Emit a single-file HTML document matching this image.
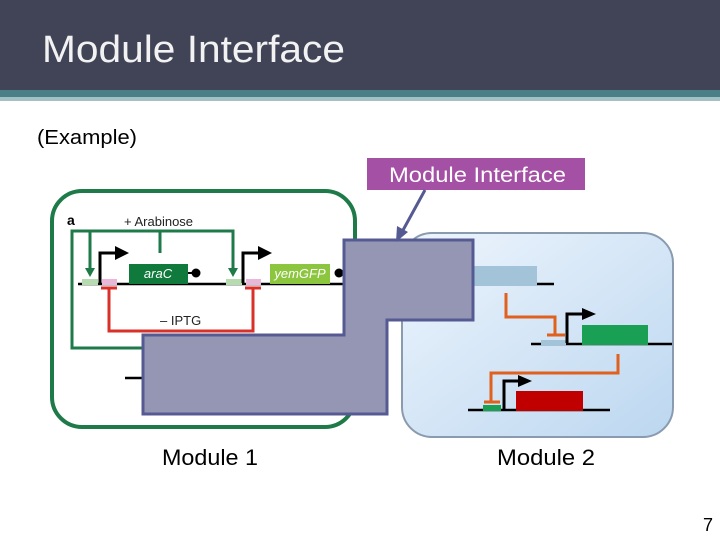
<!DOCTYPE html>
<html><head><meta charset="utf-8"><style>
body{margin:0;width:720px;height:540px;overflow:hidden;background:#fff;font-family:"Liberation Sans",sans-serif}
</style></head><body>
<svg width="720" height="540" viewBox="0 0 720 540" xmlns="http://www.w3.org/2000/svg" font-family="Liberation Sans, sans-serif">
<defs>
<linearGradient id="bg" x1="0" y1="0" x2="1" y2="1"><stop offset="0" stop-color="#eef5fd"/><stop offset="1" stop-color="#bcd7f0"/></linearGradient>
</defs>
<rect x="0" y="0" width="720" height="90" fill="#414456"/>
<rect x="0" y="90" width="720" height="7" fill="#4a7f88"/>
<rect x="0" y="97" width="720" height="4" fill="#a3c0c4"/>
<text x="42" y="62" font-size="38" fill="#f2f2f2" textLength="303" lengthAdjust="spacingAndGlyphs">Module Interface</text>
<text x="37" y="144" font-size="20" fill="#000" textLength="100" lengthAdjust="spacingAndGlyphs">(Example)</text>
<rect x="367" y="158" width="218" height="32" fill="#a450a4"/>
<text x="389" y="182" font-size="21" fill="#fff" textLength="177" lengthAdjust="spacingAndGlyphs">Module Interface</text>

<!-- module 1 -->
<rect x="52" y="191" width="303" height="236" rx="30" fill="#fff" stroke="#1e7a48" stroke-width="4"/>
<text x="67" y="225" font-size="14" font-weight="bold">a</text>
<text x="124" y="226" font-size="13" fill="#222">+ Arabinose</text>
<g stroke="#1e7a48" stroke-width="3" fill="none">
<polyline points="143,348 72,348 72,231 233,231 233,270"/>
<line x1="90" y1="231" x2="90" y2="270"/>
<line x1="160" y1="231" x2="160" y2="253"/>
</g>
<polygon points="85,268 95,268 90,277" fill="#1e7a48"/>
<polygon points="228,268 238,268 233,277" fill="#1e7a48"/>
<line x1="78" y1="284" x2="345" y2="284" stroke="#000" stroke-width="2.5"/>
<rect x="82" y="279" width="16" height="6" fill="#b6dbb1"/>
<rect x="102" y="279" width="15" height="6" fill="#e9b8d8"/>
<rect x="226" y="279" width="16" height="6" fill="#b6dbb1"/>
<rect x="246" y="279" width="15" height="6" fill="#e9b8d8"/>
<g stroke="#000" stroke-width="3" fill="none">
<polyline points="100,283 100,253 117,253"/>
<polyline points="243,283 243,253 260,253"/>
</g>
<polygon points="115,246 129,253 115,260" fill="#000"/>
<polygon points="258,246 272,253 258,260" fill="#000"/>
<rect x="129" y="264" width="59" height="20" fill="#0f7a3c"/>
<text x="158" y="278" font-size="13" fill="#fff" font-style="italic" text-anchor="middle">araC</text>
<circle cx="196" cy="273" r="4.5" fill="#000"/>
<line x1="188" y1="273" x2="196" y2="273" stroke="#000" stroke-width="2"/>
<rect x="270" y="264" width="60" height="20" fill="#8cc63f"/>
<text x="300" y="278" font-size="13" fill="#fff" font-style="italic" text-anchor="middle">yemGFP</text>
<circle cx="339" cy="273" r="4.5" fill="#000"/>
<g stroke="#d9302a" stroke-width="3" fill="none">
<polyline points="109,287 109,331 253,331 253,287"/>
<line x1="101" y1="288" x2="117" y2="288"/>
<line x1="245" y1="288" x2="261" y2="288"/>
</g>
<text x="160" y="325" font-size="13" fill="#222">– IPTG</text>
<line x1="125" y1="378" x2="143" y2="378" stroke="#000" stroke-width="2.5"/>

<!-- module 2 -->
<rect x="402" y="233" width="271" height="204" rx="30" fill="url(#bg)" stroke="#8a9bb0" stroke-width="2"/>
<rect x="473" y="266" width="64" height="20" fill="#a3c3d8"/>
<line x1="537" y1="284" x2="554" y2="284" stroke="#000" stroke-width="2.5"/>
<g stroke="#e0601e" stroke-width="3" fill="none">
<polyline points="506,293 506,317 555,317 555,335"/>
<line x1="547" y1="335" x2="565" y2="335"/>
<polyline points="618,354 618,373 491,373 491,402"/>
<line x1="484" y1="402" x2="500" y2="402"/>
</g>
<line x1="531" y1="344" x2="672" y2="344" stroke="#000" stroke-width="2.5"/>
<rect x="541" y="340" width="25" height="6" fill="#a3c3d8"/>
<polyline points="567,343 567,314 584,314" stroke="#000" stroke-width="3" fill="none"/>
<polygon points="582,308 596,314 582,320" fill="#000"/>
<rect x="582" y="325" width="66" height="20" fill="#1aa055"/>
<line x1="468" y1="410" x2="610" y2="410" stroke="#000" stroke-width="2.5"/>
<rect x="483" y="405" width="18" height="6" fill="#1aa055"/>
<polyline points="504,409 504,381 520,381" stroke="#000" stroke-width="3" fill="none"/>
<polygon points="518,375 532,381 518,387" fill="#000"/>
<rect x="516" y="391" width="67" height="20" fill="#c00000"/>

<!-- interface shape -->
<polygon points="344,240 473,240 473,320 387,320 387,414 143,414 143,335 344,335" fill="#9496b3" stroke="#565a92" stroke-width="3"/>
<line x1="425" y1="190" x2="402" y2="232" stroke="#565a92" stroke-width="3"/>
<polygon points="396,242 397,226 408,232" fill="#565a92"/>

<text x="162" y="465" font-size="22" fill="#000" textLength="96" lengthAdjust="spacingAndGlyphs">Module 1</text>
<text x="497" y="465" font-size="22" fill="#000" textLength="98" lengthAdjust="spacingAndGlyphs">Module 2</text>
<text x="703" y="531" font-size="18" fill="#000">7</text>
</svg>
</body></html>
